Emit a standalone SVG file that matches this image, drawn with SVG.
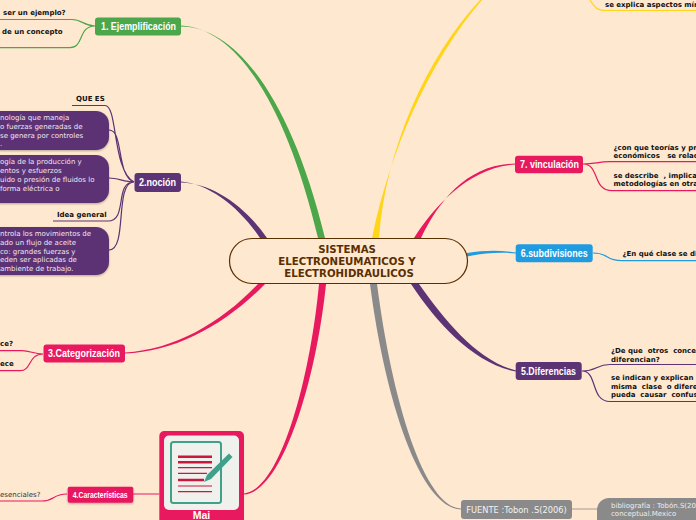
<svg xmlns="http://www.w3.org/2000/svg" width="696" height="520" viewBox="0 0 696 520">
<defs>
<filter id="sh" x="-10%" y="-20%" width="120%" height="140%"><feDropShadow dx="0" dy="1" stdDeviation="1" flood-color="#000" flood-opacity="0.3"/></filter>
</defs>
<style>
text{font-family:"DejaVu Sans","Liberation Sans",sans-serif}
.s{font-size:7px;font-weight:bold;fill:#111}
.n{font-size:7px;fill:#f3e6ee}
.t{font-family:"Liberation Sans",Arial,sans-serif;font-size:10.5px;font-weight:bold;fill:#fff}
.l{fill:none;stroke-width:1.2}
.c{font-size:10.2px;font-weight:bold;fill:#5a2f00;text-anchor:middle}
</style>
<rect width="696" height="520" fill="#ffe8d0"/>
<g id="connectors">
<path fill="#4ca64a" d="M181 25.500C235 28 285 100 318 238L325 238C291 98 236 27 181 26.500Z"/>
<path fill="#5c3374" d="M181 181.500C210 184 240 208 260 238L267 238C245 206 212 183 181 182.500Z"/>
<path fill="#e8195f" d="M125 352.500C175 350 222 322 258 284L265 284C226 324 176 352 125 353.500Z"/>
<path fill="#e8195f" d="M244 493.500C280 490 310 380 319 284L326 284C316 382 282 492 244 494.500Z"/>
<path fill="#8a8a8a" d="M370 284C385 400 420 508 461 509.500L461 508.500C424 507 392 400 377 284Z"/>
<path fill="#5c3374" d="M411 284C438 325 475 364 516 371.500L516 370.500C478 361 446 322 419 284Z"/>
<path fill="#1f9be0" d="M467 256.500C485 253 500 252 516 253.500L516 252.500C500 250 485 250 467 253Z"/>
<path fill="#e8195f" d="M414 238C435 205 470 167 516 164.500L516 163.500C468 164 440 199 421 238Z"/>
<path fill="#ffd519" d="M372 238C390 150 430 60 482 0L480 0C426 58 386 148 379 238Z"/>
<g class="l">
<path stroke="#4ca64a" d="M0 19.500H72C82 19.500 84 26 95 26M0 47.700H70C84 47.700 78 26 95 26"/>
<path stroke="#5c3374" d="M72 105.500H105C118 105.500 112 170 134 182M109 130C124 130 116 176 134 182M109 178C118 178 124 182 134 182M53 221H108C128 221 114 182 134 182M109 250C128 250 114 182 134 182"/>
<path stroke="#e8195f" d="M0 350.700H22C30 350.700 34 354 43 354M0 370.700H20C32 370.700 28 354 43 354M133 494H159M67 494C52 494 55 501 42 501H0"/>
<path stroke="#e8195f" d="M583 164C595 164 598 161.700 610 161.700H696M583 164C600 164 592 190.700 612 190.700H696"/>
<path stroke="#1f9be0" d="M593 253C610 253 604 260.700 622 260.700H696"/>
<path stroke="#5c3374" d="M582 371C597 371 596 364.500 610 364.500H696M582 371C598 371 590 401.500 610 401.500H696"/>
<path stroke="#ffd519" d="M590 0C594 6 596 10.500 606 10.500H696"/>
<path stroke="#c0b4a8" stroke-width="1.500" d="M572 509H597"/>
</g>
</g>
<g id="center"><rect x="229.500" y="238.500" width="238" height="45" rx="22.500" fill="#ffe8d0" stroke="#5a2f00" stroke-width="1.200"/>
<text class="c" x="347" y="253">SISTEMAS</text><text class="c" x="347" y="265">ELECTRONEUMATICOS Y</text><text class="c" x="349" y="277">ELECTROHIDRAULICOS</text></g>
<g id="n1"><rect x="95" y="17.500" width="86" height="18" rx="3" fill="#4ca64a"/><text class="t" x="101" y="30" textLength="75" lengthAdjust="spacingAndGlyphs">1. Ejemplificación</text>
<text class="s" x="3" y="15">ser un ejemplo?</text><text class="s" x="2" y="34">de un concepto</text></g>
<g id="n2"><rect x="134.500" y="173" width="46.500" height="19" rx="3" fill="#5c3374"/><text class="t" x="139" y="186" textLength="37" lengthAdjust="spacingAndGlyphs">2.noción</text>
<text class="s" x="76" y="101">QUE ES</text><text class="s" x="57" y="217">Idea general</text>
<rect x="-30" y="111" width="139" height="39" rx="13" fill="#5c3374" filter="url(#sh)"/>
<text class="n" x="0" y="120">nología que maneja</text><text class="n" x="0" y="129">o fuerzas generadas de</text><text class="n" x="0" y="137.500">se genera por controles</text><text class="n" x="0" y="146">.</text>
<rect x="-30" y="155" width="139" height="48" rx="13" fill="#5c3374" filter="url(#sh)"/>
<text class="n" x="0" y="164">ogía de la producción y</text><text class="n" x="0" y="173">entos y esfuerzos</text><text class="n" x="0" y="181.500">uido o presión de fluidos lo</text><text class="n" x="0" y="190.500">forma eléctrica o</text>
<rect x="-30" y="227" width="139" height="48" rx="13" fill="#5c3374" filter="url(#sh)"/>
<text class="n" x="0" y="236">ntrola los movimientos de</text><text class="n" x="0" y="245">ado un flujo de aceite</text><text class="n" x="0" y="253.500">co: grandes fuerzas y</text><text class="n" x="0" y="262">eden ser aplicadas de</text><text class="n" x="0" y="270.500">ambiente de trabajo.</text></g>
<g id="n3"><rect x="43.500" y="344.500" width="81.500" height="18" rx="3" fill="#e8195f"/><text class="t" x="48" y="357" textLength="72" lengthAdjust="spacingAndGlyphs">3.Categorización</text>
<text class="s" x="0" y="346">ce?</text><text class="s" x="0" y="366">ece</text></g>
<g id="n4"><rect x="67.700" y="486.700" width="65.600" height="16" rx="2" fill="#e8195f" filter="url(#sh)"/><text class="t" x="72.700" y="498" textLength="55" lengthAdjust="spacingAndGlyphs" style="font-size:8.500px">4.Características</text>
<text x="0" y="497" style="font-size:7px;fill:#333">esenciales?</text></g>
<g id="mai"><rect x="159.300" y="431" width="84.700" height="100" rx="5" fill="#e8195f"/><rect x="164" y="435.500" width="75" height="74.500" rx="5" fill="#f0f0ec"/>
<rect x="171" y="442" width="50" height="61" rx="2.500" fill="none" stroke="#3fa08c" stroke-width="2"/>
<g stroke="#c8183c"><path stroke-width="2.500" d="M178 456.700H212M178 462.300H212M178 480H204"/><path stroke-width="1.200" d="M178 467.700H212M178 473.300H207M178 486H212M178 491.700H212"/></g>
<path d="M204 482L207 475L229 453.500L232.500 457L211 479Z" fill="#3fa08c"/>
<text class="t" x="201.500" y="519" text-anchor="middle">Mai</text></g>
<g id="n5"><rect x="515.700" y="362" width="66" height="18" rx="3" fill="#5c3374"/><text class="t" x="521" y="374.500" textLength="55" lengthAdjust="spacingAndGlyphs">5.Diferencias</text>
<text class="s" x="611" y="353" xml:space="preserve">¿De que  otros  conce</text><text class="s" x="611" y="361.500">diferencian?</text>
<text class="s" x="611" y="380" xml:space="preserve">se indican y explican</text><text class="s" x="611" y="388.500" xml:space="preserve">misma  clase  o difere</text><text class="s" x="611" y="397" xml:space="preserve">pueda  causar  confusi</text></g>
<g id="n6"><rect x="515.700" y="244.300" width="77" height="18" rx="3" fill="#1f9be0"/><text class="t" x="520.700" y="257" textLength="67" lengthAdjust="spacingAndGlyphs">6.subdivisiones</text>
<text class="s" x="622.500" y="256">¿En qué clase se di</text></g>
<g id="n7"><rect x="515" y="155.700" width="68" height="17.600" rx="3" fill="#e8195f"/><text class="t" x="520" y="168" textLength="59" lengthAdjust="spacingAndGlyphs">7. vinculación</text>
<text class="s" x="613.500" y="149.500">¿con que teorías y pr</text><text class="s" x="613.500" y="157.500" xml:space="preserve">económicos   se relac</text>
<text class="s" x="613.500" y="177.500" xml:space="preserve">se describe  , implica</text><text class="s" x="613.500" y="186">metodologías en otra</text></g>
<g id="n8"><rect x="461" y="500" width="111" height="19" rx="3" fill="#8a8a8a"/><text x="516.500" y="512.500" style="font-size:8.300px;fill:#f2f2f2;text-anchor:middle">FUENTE :Tobon .S(2006)</text>
<rect x="597" y="498" width="130" height="40" rx="12" fill="#8a8a8a"/>
<text x="611" y="507.500" style="font-size:7px;fill:#eee">bibliografía : Tobón.S(20</text><text x="611" y="516" style="font-size:7px;fill:#eee">conceptual.Mexico</text></g>
<g id="n9"><text class="s" x="605" y="6.500">se explica aspectos mín</text></g>
</svg>
